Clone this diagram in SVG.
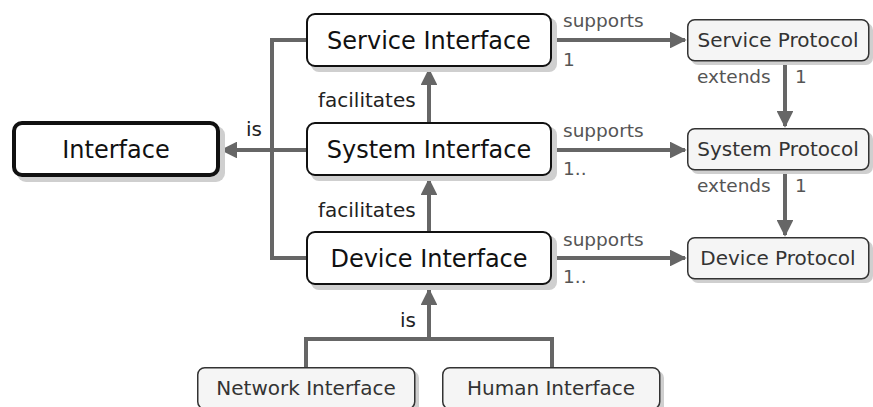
<svg xmlns="http://www.w3.org/2000/svg" width="873" height="407" viewBox="0 0 873 407">
  <defs>
    <marker id="arrow" viewBox="0 0 10 10" refX="9" refY="5" markerWidth="4.2" markerHeight="4.2" markerUnits="strokeWidth" orient="auto">
      <path d="M0,0 L10,5 L0,10 z" fill="#666"/>
    </marker>
  </defs>
  <style>
    text { font-family: "DejaVu Sans", Verdana, sans-serif; }
    .shadow { fill: #cfcfcf; stroke: none; }
    .main { fill: #fff; stroke: #111; stroke-width: 2; }
    .root { fill: #fff; stroke: #111; stroke-width: 4; }
    .minor { fill: #f5f5f5; stroke: #333; stroke-width: 1.5; }
    .big { font-size: 24px; fill: #111; text-anchor: middle; }
    .small { font-size: 20px; fill: #333; text-anchor: middle; }
    .rel { font-size: 20px; fill: #222; }
    .note { font-size: 18.5px; fill: #555; }
    .line { fill: none; stroke: #666; stroke-width: 4; }
    .head { fill: none; stroke: #666; stroke-width: 4; marker-end: url(#arrow); }
  </style>

  <!-- connectors -->
  <g id="connectors">
    <!-- generalisation trunk to Interface -->
    <path class="line" d="M306,40 H272 V258 H306"/>
    <path class="line" d="M306,150 H272"/>
    <path class="head" d="M272,150 H222"/>
    <!-- facilitates -->
    <path class="head" d="M429,231 V180"/>
    <path class="head" d="M429,122 V70"/>
    <!-- supports -->
    <path class="head" d="M552,40 H685"/>
    <path class="head" d="M552,150 H685"/>
    <path class="head" d="M552,258 H685"/>
    <!-- extends -->
    <path class="head" d="M785,61 V126"/>
    <path class="head" d="M785,170 V235"/>
    <!-- specialisations of Device Interface -->
    <path class="line" d="M306,367 V339 H552 V367"/>
    <path class="head" d="M429,339 V290"/>

    <text class="rel" x="246" y="136">is</text>
    <text class="rel" x="318" y="107">facilitates</text>
    <text class="rel" x="318" y="217">facilitates</text>
    <text class="rel" x="400" y="327">is</text>

    <text class="note" x="563" y="27">supports</text>
    <text class="note" x="563" y="66">1</text>
    <text class="note" x="563" y="137">supports</text>
    <text class="note" x="563" y="175">1..</text>
    <text class="note" x="563" y="246">supports</text>
    <text class="note" x="563" y="283">1..</text>
    <text class="note" x="697" y="83">extends</text>
    <text class="note" x="795" y="83">1</text>
    <text class="note" x="697" y="192">extends</text>
    <text class="note" x="795" y="192">1</text>
  </g>

  <g id="interface">
    <rect class="shadow" x="17" y="126" width="208" height="56" rx="9"/>
    <rect class="root" x="14" y="123" width="204" height="52" rx="8"/>
    <text class="big" x="116" y="158">Interface</text>
  </g>

  <g id="service-interface">
    <rect class="shadow" x="311" y="18" width="246" height="54" rx="8"/>
    <rect class="main" x="307" y="14" width="244" height="52" rx="8"/>
    <text class="big" x="429" y="49">Service Interface</text>
  </g>

  <g id="system-interface">
    <rect class="shadow" x="311" y="127" width="246" height="54" rx="8"/>
    <rect class="main" x="307" y="123" width="244" height="52" rx="8"/>
    <text class="big" x="429" y="158">System Interface</text>
  </g>

  <g id="device-interface">
    <rect class="shadow" x="311" y="236" width="246" height="54" rx="8"/>
    <rect class="main" x="307" y="232" width="244" height="52" rx="8"/>
    <text class="big" x="429" y="267">Device Interface</text>
  </g>

  <g id="service-protocol">
    <rect class="shadow" x="691" y="23" width="182" height="42" rx="7"/>
    <rect class="minor" x="687.75" y="19.75" width="181" height="41" rx="7"/>
    <text class="small" x="778" y="47">Service Protocol</text>
  </g>

  <g id="system-protocol">
    <rect class="shadow" x="691" y="132" width="182" height="42" rx="7"/>
    <rect class="minor" x="687.75" y="128.75" width="181" height="41" rx="7"/>
    <text class="small" x="778" y="156">System Protocol</text>
  </g>

  <g id="device-protocol">
    <rect class="shadow" x="691" y="241" width="182" height="42" rx="7"/>
    <rect class="minor" x="687.75" y="237.75" width="181" height="41" rx="7"/>
    <text class="small" x="778" y="265">Device Protocol</text>
  </g>

  <g id="network-interface">
    <rect class="shadow" x="201" y="371" width="218" height="42" rx="7"/>
    <rect class="minor" x="197.75" y="367.75" width="217" height="41" rx="7"/>
    <text class="small" x="306" y="395">Network Interface</text>
  </g>

  <g id="human-interface">
    <rect class="shadow" x="446" y="371" width="218" height="42" rx="7"/>
    <rect class="minor" x="442.75" y="367.75" width="217" height="41" rx="7"/>
    <text class="small" x="551" y="395">Human Interface</text>
  </g>
</svg>
